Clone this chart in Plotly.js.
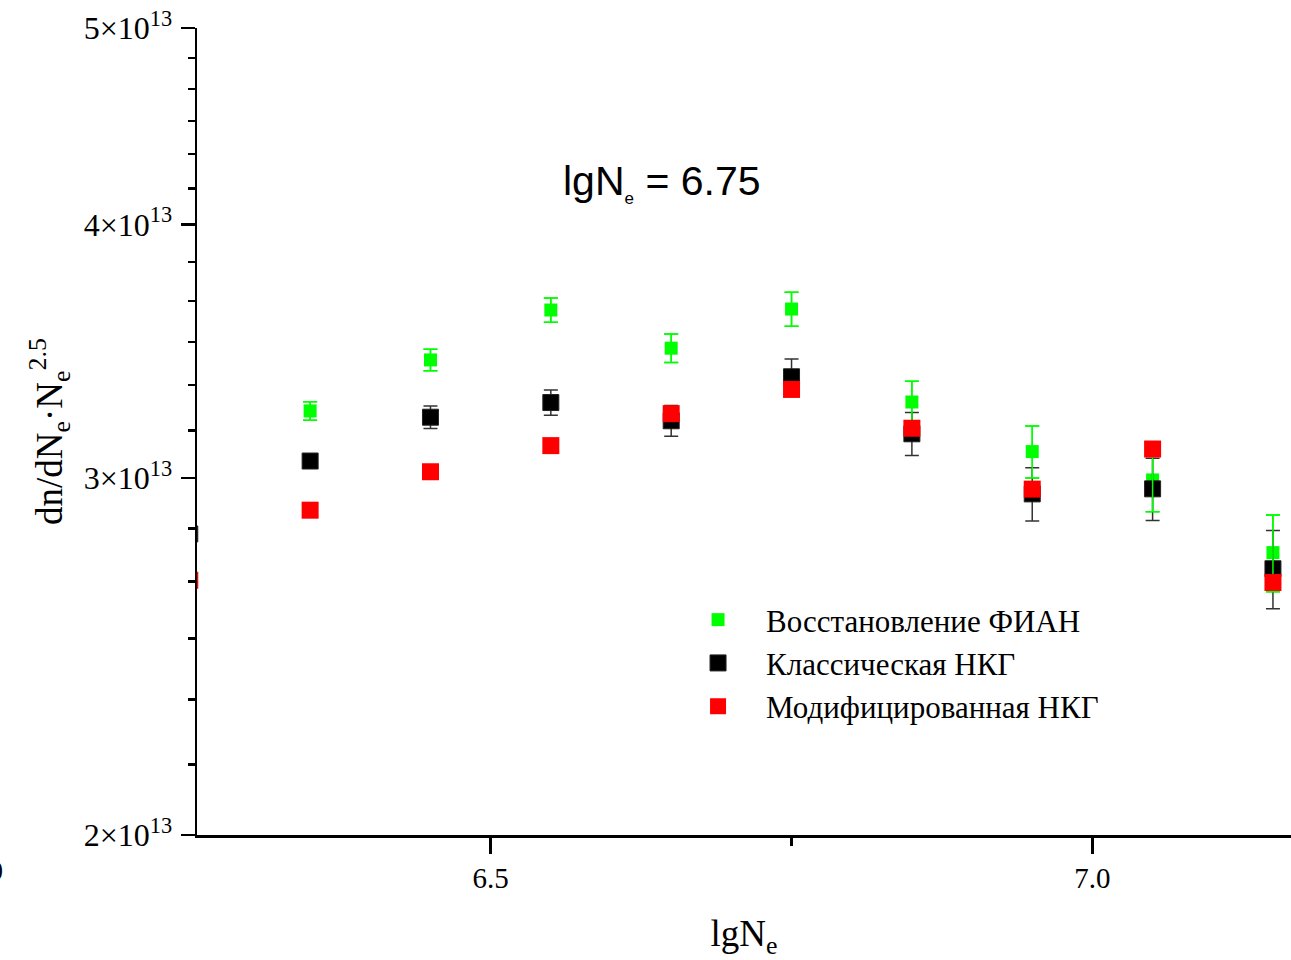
<!DOCTYPE html>
<html>
<head>
<meta charset="utf-8">
<script src="https://cdn.plot.ly/plotly-3.0.1.min.js"></script>
<style>html,body{margin:0;padding:0;background:#fff;}#chart{width:1291px;height:960px;}</style>
</head>
<body>
<div id="chart"></div>
<script>
// lgNe bins
const lgNe = [6.25, 6.35, 6.45, 6.55, 6.65, 6.75, 6.85, 6.95, 7.05, 7.15];
// Восстановление ФИАН
const fian = [2.932e13, 3.237e13, 3.430e13, 3.630e13, 3.476e13, 3.634e13, 3.270e13, 3.091e13, 2.993e13, 2.756e13];
const fianErr = [0.030e13, 0.034e13, 0.042e13, 0.050e13, 0.056e13, 0.070e13, 0.078e13, 0.091e13, 0.106e13, 0.120e13];
// Классическая НКГ
const classic = [2.815e13, 3.058e13, 3.214e13, 3.268e13, 3.201e13, 3.365e13, 3.154e13, 2.946e13, 2.963e13, 2.706e13];
const classicErr = [0.020e13, 0.020e13, 0.041e13, 0.047e13, 0.056e13, 0.069e13, 0.077e13, 0.089e13, 0.105e13, 0.120e13];
// Модифицированная НКГ
const modified = [2.671e13, 2.892e13, 3.021e13, 3.112e13, 3.227e13, 3.317e13, 3.174e13, 2.962e13, 3.100e13, 2.664e13];

const names = ['Восстановление ФИАН', 'Классическая НКГ', 'Модифицированная НКГ'];
const yTickVals = [2e13, 3e13, 4e13, 5e13];
const yTickText = ['2×10<sup>13</sup>', '3×10<sup>13</sup>', '4×10<sup>13</sup>', '5×10<sup>13</sup>'];
const yMinorVals = [2.1667e13, 2.3333e13, 2.5e13, 2.6667e13, 2.8333e13,
                    3.1667e13, 3.3333e13, 3.5e13, 3.6667e13, 3.8333e13,
                    4.1667e13, 4.3333e13, 4.5e13, 4.6667e13, 4.8333e13];
const xTickVals = [6.5, 7.0];
const xTickText = ['6.5', '7.0'];
const xMinorVals = [6.75];

const GREEN = '#00ff00', BLACK = '#000000', RED = '#ff0000';
const serif = 'Liberation Serif, Times New Roman, serif';

const traces = [
  {
    x: lgNe, y: fian, name: names[0], type: 'scatter', mode: 'markers',
    marker: {symbol: 'square', size: 13, color: GREEN},
    error_y: {type: 'data', array: fianErr, visible: true, color: GREEN, thickness: 1.5, width: 7},
    cliponaxis: true
  },
  {
    x: lgNe, y: classic, name: names[1], type: 'scatter', mode: 'markers',
    marker: {symbol: 'square', size: 16, color: BLACK, line: {color: '#222', width: 1}},
    error_y: {type: 'data', array: classicErr, visible: true, color: '#333333', thickness: 1.5, width: 7},
    cliponaxis: true
  },
  {
    x: lgNe, y: fian, name: names[0], type: 'scatter', mode: 'markers', showlegend: false,
    marker: {symbol: 'square', size: 1, color: 'rgba(0,0,0,0)'},
    error_y: {type: 'data', array: fianErr, visible: true, color: GREEN, thickness: 1.5, width: 7},
    hoverinfo: 'skip', cliponaxis: true
  },
  {
    x: lgNe, y: modified, name: names[2], type: 'scatter', mode: 'markers',
    marker: {symbol: 'square', size: 17, color: RED},
    cliponaxis: true
  }
];

const layout = {
  width: 1291, height: 960,
  margin: {l: 197, r: 0, t: 28, b: 125},
  paper_bgcolor: '#fff', plot_bgcolor: '#fff',
  showlegend: true,
  xaxis: {
    range: [6.256, 7.165],
    showline: true, linecolor: '#000', linewidth: 2.5,
    showgrid: false, zeroline: false,
    ticks: 'outside', ticklen: 16, tickwidth: 2.5, tickcolor: '#000',
    tickmode: 'array', tickvals: xTickVals, ticktext: xTickText,
    tickfont: {family: serif, size: 29, color: '#000'},
    minor: {tickmode: 'array', tickvals: xMinorVals, ticks: 'outside', ticklen: 8, tickwidth: 2.5, tickcolor: '#000', showgrid: false},
    title: {text: 'lgN<sub>e</sub>', font: {family: serif, size: 37, color: '#000'}, standoff: 32}
  },
  yaxis: {
    type: 'log',
    range: [Math.log10(2e13), Math.log10(5e13)],
    showline: true, linecolor: '#000', linewidth: 2.5,
    showgrid: false, zeroline: false,
    ticks: 'outside', ticklen: 14, tickwidth: 2.5, tickcolor: '#000',
    tickmode: 'array', tickvals: yTickVals, ticktext: yTickText,
    tickfont: {family: serif, size: 32, color: '#000'},
    ticklabelstandoff: 2,
    minor: {tickmode: 'array', tickvals: yMinorVals, ticks: 'outside', ticklen: 7, tickwidth: 2.5, tickcolor: '#000', showgrid: false},
    title: {text: 'dn/dN<sub>e</sub>·N<sub>e</sub><sup>2.5</sup>', font: {family: serif, size: 37, color: '#000'}, standoff: 10}
  },
  legend: {
    x: 0.4324, y: 0.2999, xanchor: 'left', yanchor: 'top',
    bgcolor: 'rgba(0,0,0,0)', borderwidth: 0,
    font: {family: serif, size: 31, color: '#000'},
    itemwidth: 86, tracegroupgap: 0
  },
  annotations: [
    {
      xref: 'paper', yref: 'paper', x: 0.425, y: 0.808, xanchor: 'center', yanchor: 'middle',
      text: 'lgN<sub><span style="font-size:17px">e</span></sub> = 6.75', showarrow: false,
      font: {family: 'Liberation Sans, Arial, sans-serif', size: 41, color: '#000'}
    },
    {
      xref: 'paper', yref: 'paper', x: -0.1755, y: -0.0446, xanchor: 'right', yanchor: 'middle',
      text: '0', showarrow: false,
      font: {family: serif, size: 28, color: '#000'}
    }
  ]
};

Plotly.newPlot('chart', traces, layout, {displayModeBar: false, staticPlot: true});
</script>
</body>
</html>
